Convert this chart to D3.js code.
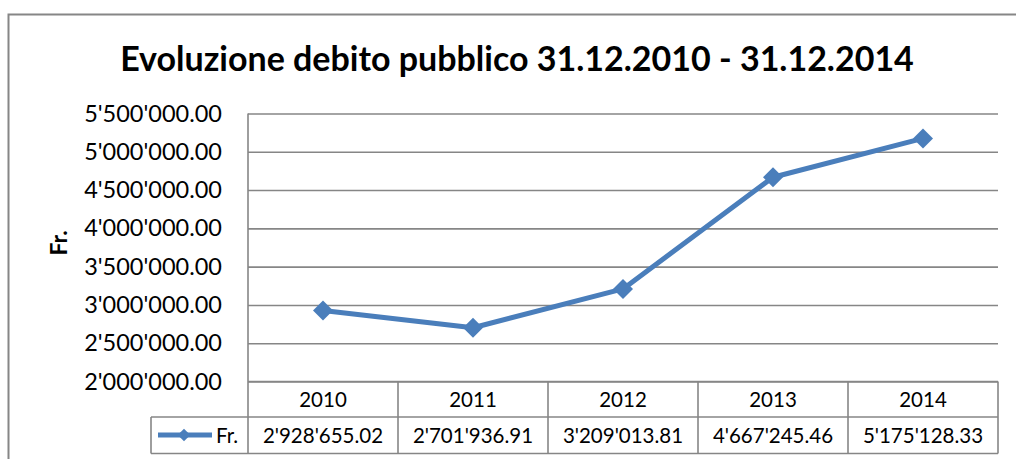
<html>
<script src='https://d3js.org/d3.v7.min.js'></script>
<style>
body {margin: 0; background: white;}
text {font-family: Lato, 'Open Sans', sans-serif; fill: black;}
</style>
<body onload='init()'>
<svg width=1016 height=459></svg>
<script>
// data
var years = ['2010', '2011', '2012', '2013', '2014'];
var debt = [2928655.02, 2701936.91, 3209013.81, 4667245.46, 5175128.33];
var yTicks = [2000000, 2500000, 3000000, 3500000, 4000000, 4500000, 5000000, 5500000];
var seriesName = 'Fr.';
var title = 'Evoluzione debito pubblico 31.12.2010 - 31.12.2014';

function init() {
var blue = '#4a7ebb', grey = '#868686';
var fmt = function(v) { return d3.format(',.2f')(v).replace(/,/g, "'"); };

var svg = d3.select('svg');

// outer chart frame (runs off the right/bottom of the picture)
svg.append('rect')
  .attr('x', 8.5).attr('y', 14.5)
  .attr('width', 1030).attr('height', 470)
  .attr('fill', 'white').attr('stroke', grey).attr('stroke-width', 2);

var x = d3.scaleBand(years, [248, 998]);
var y = d3.scaleLinear([2000000, 5500000], [381.5, 113.5]);
var cx = function(d, i) { return x(years[i]) + x.bandwidth() / 2; };

svg.append('text')
  .attr('x', 517).attr('y', 71)
  .attr('text-anchor', 'middle')
  .style('font-size', '34px').style('font-weight', 'bold')
  .text(title);

// grid lines + tick labels
var yAxis = svg.append('g')
  .attr('transform', 'translate(248,0)')
  .call(d3.axisLeft(y).tickValues(yTicks).tickFormat(fmt).tickSize(-750).tickPadding(26));
yAxis.select('.domain').remove();
yAxis.selectAll('line').attr('stroke', grey).attr('stroke-width', 1.6);
yAxis.selectAll('text').style('font-size', '23.5px').style('font-family', 'Lato');

svg.append('text')
  .attr('transform', 'translate(67,243) rotate(-90)')
  .attr('text-anchor', 'middle')
  .style('font-size', '23px').style('font-weight', 'bold')
  .text(seriesName);

// data table under the plot
var t = svg.append('g');
var top = 381.5, mid = 417, bot = 453.5;
t.append('line').attr('x1', 248).attr('x2', 248).attr('y1', 113.5).attr('y2', bot);
t.append('line').attr('x1', 248).attr('x2', 998).attr('y1', top).attr('y2', top);
t.append('line').attr('x1', 151).attr('x2', 998).attr('y1', mid).attr('y2', mid);
t.append('line').attr('x1', 151).attr('x2', 998).attr('y1', bot).attr('y2', bot);
t.append('line').attr('x1', 151).attr('x2', 151).attr('y1', mid).attr('y2', bot);
t.selectAll('.vl').data(years).enter().append('line')
  .attr('x1', function(d) { return x(d) + x.bandwidth(); })
  .attr('x2', function(d) { return x(d) + x.bandwidth(); })
  .attr('y1', top).attr('y2', bot);
t.selectAll('line').attr('stroke', grey).attr('stroke-width', 1.6);

t.selectAll('.yr').data(years).enter().append('text')
  .attr('x', cx).attr('y', 407)
  .attr('text-anchor', 'middle').style('font-size', '20.5px')
  .text(function(d) { return d; });
t.selectAll('.val').data(debt).enter().append('text')
  .attr('x', cx).attr('y', 443)
  .attr('text-anchor', 'middle').style('font-size', '20.5px')
  .text(fmt);

// legend key in the table
t.append('line').attr('x1', 158).attr('x2', 212).attr('y1', 435).attr('y2', 435)
  .attr('stroke', blue).attr('stroke-width', 5);
t.append('path').attr('d', d3.symbol(d3.symbolSquare, 80)())
  .attr('transform', 'translate(184,435) rotate(45)').attr('fill', blue);
t.append('text').attr('x', 216).attr('y', 443).style('font-size', '20.5px').text(seriesName);

// series
svg.append('path')
  .datum(debt)
  .attr('fill', 'none').attr('stroke', blue).attr('stroke-width', 5)
  .attr('stroke-linejoin', 'round')
  .attr('d', d3.line().x(cx).y(function(d) { return y(d); }));

svg.selectAll('.pt').data(debt).enter().append('path')
  .attr('d', d3.symbol(d3.symbolSquare, 200)())
  .attr('transform', function(d, i) { return 'translate(' + cx(d, i) + ',' + y(d) + ') rotate(45)'; })
  .attr('fill', blue);
}
</script>
</body>
</html>
